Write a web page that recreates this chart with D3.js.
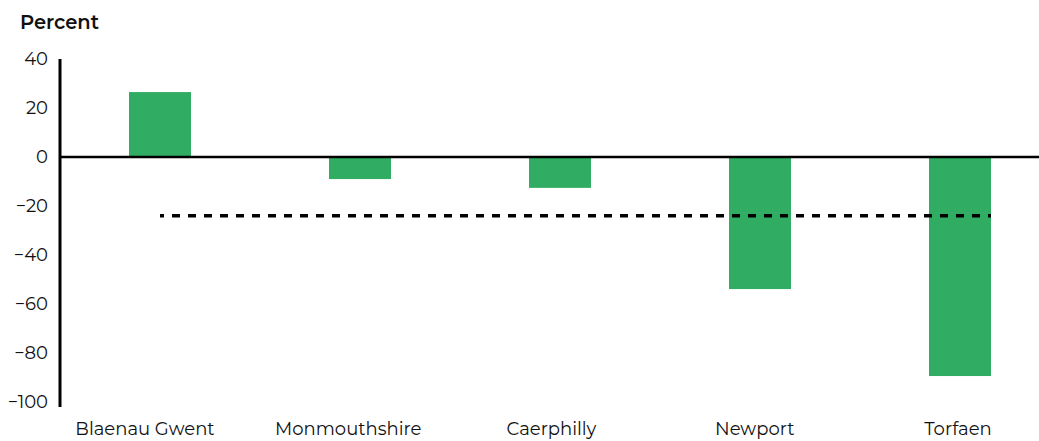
<!DOCTYPE html>
<html><head><meta charset="utf-8">
<script src="https://cdn.jsdelivr.net/npm/d3@7"></script>
<style>body{margin:0;background:#fff}svg{display:block}</style>
</head><body>
<svg id="c" width="1039" height="441"></svg>
<script>
const categories = ["Blaenau Gwent","Monmouthshire","Caerphilly","Newport","Torfaen"];
const values = [26.5, -9, -12.6, -53.9, -89.4];
const averageValue = -24;
const yTicks = [40,20,0,-20,-40,-60,-80,-100];
const yLabel = "Percent";

const svg = d3.select("#c");
const font = "Montserrat, 'Open Sans', Lato, sans-serif";
const y = d3.scaleLinear().domain([-100,40]).range([402,59]);
const x = d3.scaleBand().domain(categories).range([60,1060]).paddingInner(0.69).paddingOuter(0.345);
const xLab = d3.scalePoint().domain(categories).range([145,958]);

// bars
svg.append("g").selectAll("rect").data(values).join("rect")
  .attr("x",(d,i)=>x(categories[i]))
  .attr("width",x.bandwidth())
  .attr("y",d=>y(Math.max(0,d)))
  .attr("height",d=>Math.abs(y(d)-y(0)))
  .attr("fill","#31ac63");

// zero line
svg.append("line").attr("x1",60).attr("x2",1039).attr("y1",y(0)).attr("y2",y(0))
  .attr("stroke","#000").attr("stroke-width",2.5);

// y axis
const ya = svg.append("g").attr("transform","translate(60,0)")
  .call(d3.axisLeft(y).tickValues(yTicks).tickSize(0).tickPadding(12).tickFormat(d3.format("d")));
ya.select(".domain").attr("stroke","#000").attr("stroke-width",3).attr("d","M0,59V407");
ya.selectAll("text").attr("font-family",font).attr("font-size",18).attr("fill","#111");

// x labels
svg.append("g").selectAll("text").data(categories).join("text")
  .attr("x",d=>xLab(d)).attr("y",435).attr("text-anchor","middle")
  .attr("font-family",font).attr("font-size",18).attr("fill","#111").text(d=>d);

// average dashed line
const xs = x(categories[0]) + x.bandwidth()/2;
const xe = x(categories[categories.length-1]) + x.bandwidth();
svg.append("line").attr("x1",xs).attr("x2",xe).attr("y1",y(averageValue)).attr("y2",y(averageValue))
  .attr("stroke","#000").attr("stroke-width",3.5).attr("stroke-dasharray","8,8").attr("stroke-dashoffset",4);

// title
svg.append("text").attr("x",20).attr("y",29).attr("font-family",font).attr("font-weight",600)
  .attr("font-size",19.5).attr("fill","#111").text(yLabel);
</script>
</body></html>
